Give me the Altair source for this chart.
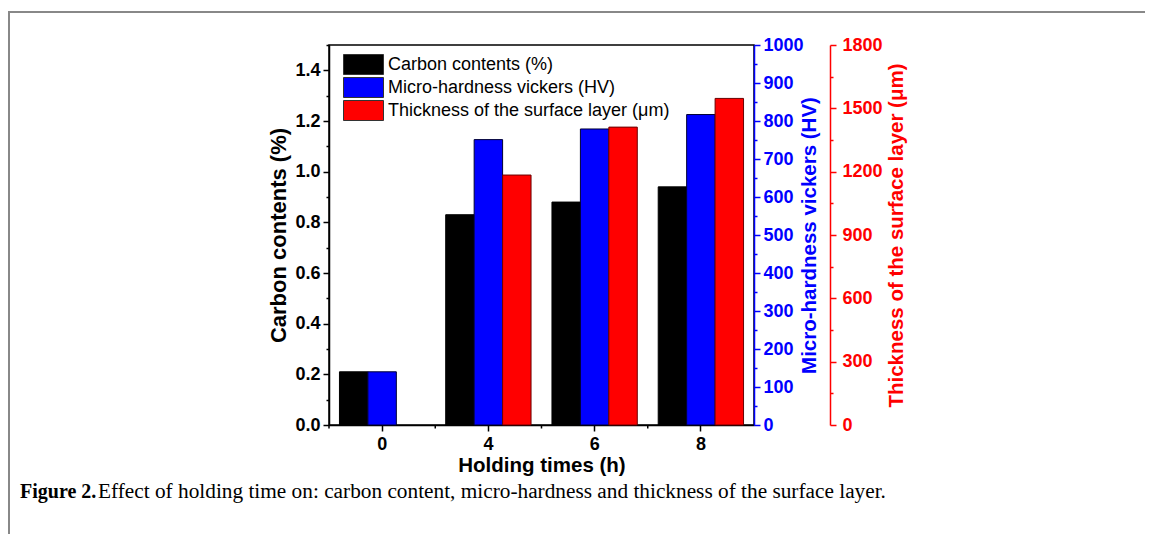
import altair as alt
import pandas as pd

times = ["0", "4", "6", "8"]
series = ["Carbon contents (%)", "Micro-hardness vickers (HV)", "Thickness of the surface layer (μm)"]
carbon = [0.21, 0.83, 0.88, 0.94]
hardness = [140, 751, 779, 817]
thickness = [None, 1184, 1411, 1547]
colors = ["#000000", "#0000ff", "#ff0000"]

rows = []
for s, vals in zip(series, [carbon, hardness, thickness]):
    for t, v in zip(times, vals):
        if v is not None:
            rows.append({"series": s, "time": t, "value": v})
df = pd.DataFrame(rows)
tdf = pd.DataFrame({"time": times})

FONT = "Liberation Sans"
W, H = 425, 380

xscale = alt.Scale(domain=times, paddingInner=0, paddingOuter=0)
xaxis = alt.Axis(title="Holding times (h)", labelAngle=0, labelFont=FONT, labelFontSize=18,
                 labelFontWeight="bold", labelColor="black", labelPadding=4,
                 tickSize=6, tickColor="black", tickWidth=1.5, domainColor="black",
                 domainWidth=1.5, titleFont=FONT, titleFontSize=20.5, titleFontWeight="bold",
                 titleColor="black", titlePadding=2)
x = alt.X("time:N", sort=times, scale=xscale, axis=xaxis)
xoff = alt.XOffset("series:N", scale=alt.Scale(domain=series, paddingInner=0, paddingOuter=0.368))
color = alt.Color("series:N", scale=alt.Scale(domain=series, range=colors),
                  legend=alt.Legend(title=None, orient="none", legendX=24, legendY=9,
                                    symbolType="M-2,-1H2V1H-2Z", symbolSize=400,
                                    symbolStrokeColor="#333333", symbolStrokeWidth=1,
                                    symbolOpacity=1, labelFont=FONT, labelFontSize=18,
                                    labelColor="black", labelOffset=14, labelLimit=0,
                                    rowPadding=-3, padding=0))


def yaxis(title, col, values, major, fmt, orient, offset, tpad, tsize, lpad, right=False):
    extra = {"titleAngle": 270, "titleBaseline": "top"} if right else {}
    return alt.Axis(title=title, orient=orient, offset=offset, values=values, format=fmt,
                    labelExpr=f"round(datum.value*10) % {int(major*10)} === 0 ? datum.label : ''",
                    tickSize={"condition": {"test": f"round(datum.value*10) % {int(major*10)} !== 0", "value": 3}, "value": 6},
                    tickColor=col, tickWidth=1.5, domainColor=col, domainWidth=1.5,
                    labelColor=col, labelFont=FONT, labelFontSize=18, labelFontWeight="bold",
                    labelPadding=lpad, titleColor=col, titleFont=FONT, titleFontSize=tsize,
                    titleFontWeight="bold", titlePadding=tpad, grid=False, **extra)


carbon_vals = [round(i * 0.1, 1) for i in range(16)]
hv_vals = list(range(0, 1001, 50))
th_vals = list(range(0, 1801, 150))

base = alt.Chart(df)
l1 = base.transform_filter(alt.datum.series == series[0]).mark_bar(stroke="#000000", strokeWidth=1).encode(
    x=x, xOffset=xoff, color=color,
    y=alt.Y("value:Q", scale=alt.Scale(domain=[0, 1.5], nice=False, zero=True),
            axis=yaxis("Carbon contents (%)", "black", carbon_vals, 0.2, ".1f", "left", 0, 4, 22, 3)))
l2 = base.transform_filter(alt.datum.series == series[1]).mark_bar(stroke="#000033", strokeWidth=1).encode(
    x=x, xOffset=xoff, color=color,
    y=alt.Y("value:Q", scale=alt.Scale(domain=[0, 1000], nice=False),
            axis=yaxis("Micro-hardness vickers (HV)", "#0000ff", hv_vals, 100, "d", "right", 0, -4, 20.5, 3, True)))
l3 = base.transform_filter(alt.datum.series == series[2]).mark_bar(stroke="#6a0000", strokeWidth=1).encode(
    x=x, xOffset=xoff, color=color,
    y=alt.Y("value:Q", scale=alt.Scale(domain=[0, 1800], nice=False),
            axis=yaxis("Thickness of the surface layer (μm)", "#ff0000", th_vals, 300, "d", "right", 76, 4, 20.5, 6, True)))

# minor ticks at the category band boundaries
minor_x = alt.Chart(tdf).mark_rule(color="black", strokeWidth=1.5).encode(
    x=alt.X("time:N", sort=times, scale=xscale, axis=xaxis, bandPosition=0),
    y=alt.value(H), y2=alt.value(H + 3.5))

one = pd.DataFrame({"a": [0]})
border_top = alt.Chart(one).mark_rule(color="#888888", strokeWidth=2).encode(
    x=alt.value(-321), x2=alt.value(830), y=alt.value(-33))
border_left = alt.Chart(one).mark_rule(color="#888888", strokeWidth=2).encode(
    x=alt.value(-320), y=alt.value(-33), y2=alt.value(500))
cap1 = alt.Chart(one).mark_text(text="Figure 2.", font="Liberation Serif", fontSize=20, fontWeight="bold",
                                 align="left", baseline="alphabetic", color="black").encode(
    x=alt.value(-309), y=alt.value(453))
cap2 = alt.Chart(one).mark_text(text="Effect of holding time on: carbon content, micro-hardness and thickness of the surface layer.",
                                 font="Liberation Serif", fontSize=21.3, align="left", baseline="alphabetic",
                                 color="black").encode(
    x=alt.value(-231), y=alt.value(453))

chart = alt.layer(l1, l2, l3, minor_x, border_top, border_left, cap1, cap2).resolve_scale(y="independent").properties(
    width=W, height=H,
    padding={"left": 321, "top": 37, "right": 391, "bottom": 109},
    autosize=alt.AutoSizeParams(type="none"),
).configure_view(stroke="black", strokeWidth=1.5)

chart.save("out.html", embed_options={"renderer": "svg", "actions": False})
